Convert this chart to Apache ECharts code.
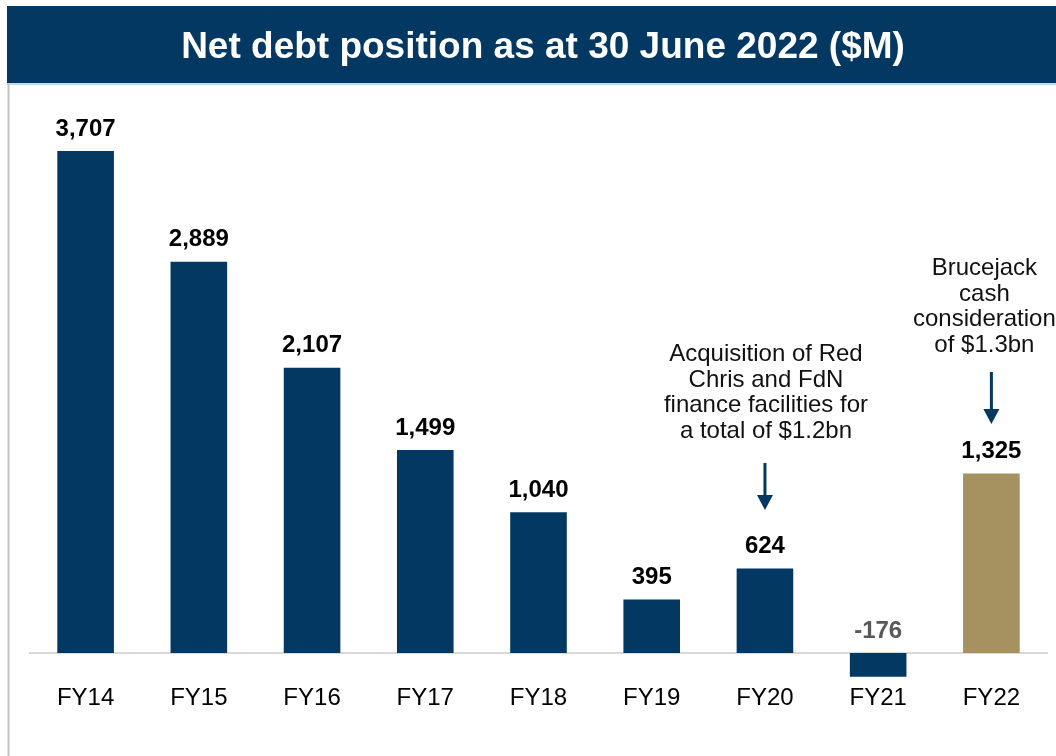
<!DOCTYPE html>
<html>
<head>
<meta charset="utf-8">
<script src="https://cdn.jsdelivr.net/npm/echarts@6/dist/echarts.min.js"></script>
<style>
html,body{margin:0;padding:0;background:#fff;}
#chart{width:1056px;height:756px;}
</style>
</head>
<body>
<div id="chart"></div>
<script>
const titleText = 'Net debt position as at 30 June 2022 ($M)';
const categories = ['FY14','FY15','FY16','FY17','FY18','FY19','FY20','FY21','FY22'];
const netDebt = [3707, 2889, 2107, 1499, 1040, 395, 624, -176, 1325];
const annotations = [
  {category: 'FY20', text: 'Acquisition of Red\nChris and FdN\nfinance facilities for\na total of $1.2bn'},
  {category: 'FY22', text: 'Brucejack\ncash\nconsideration\nof $1.3bn'}
];

const NAVY = '#023862';
const GOLD = '#A69161';
const FONT = "'Liberation Sans', Arial, sans-serif";

const chart = echarts.init(document.getElementById('chart'), null, {renderer: 'canvas'});

const seriesData = netDebt.map((v, i) => {
  const item = {value: v};
  if (categories[i] === 'FY22') item.itemStyle = {color: GOLD};
  if (v < 0) item.label = {color: '#595959'};
  return item;
});

const option = {
  backgroundColor: '#ffffff',
  animation: false,
  title: {
    text: titleText,
    left: 538,
    textAlign: 'center',
    top: 24,
    textStyle: {color: '#ffffff', fontFamily: FONT, fontWeight: 'bold', fontSize: 37}
  },
  grid: {left: 29, right: 8, top: 111.32, bottom: 75.92, containLabel: false, outerBoundsMode: 'none'},
  xAxis: {
    type: 'category',
    data: categories,
    axisLine: {show: false, onZero: false},
    axisTick: {show: false},
    axisLabel: {color: '#000', fontFamily: FONT, fontSize: 24, margin: 6}
  },
  yAxis: {
    type: 'value', min: -200, max: 4000, show: false,
    splitLine: {show: false}
  },
  series: [{
    type: 'bar',
    data: seriesData,
    barWidth: '50%',
    itemStyle: {color: NAVY},
    label: {
      show: true, position: 'top', distance: 10,
      color: '#000', fontFamily: FONT, fontWeight: 'bold', fontSize: 24,
      formatter: p => Number(p.value).toLocaleString('en-US')
    },
    markLine: {
      silent: true, symbol: 'none', z: 1,
      label: {show: false},
      lineStyle: {color: '#d9d9d9', width: 2, type: 'solid'},
      data: [{yAxis: 0}]
    }
  }],
  graphic: []
};
chart.setOption(option);

function buildGraphics() {
  const g = [
    {type: 'rect', z: -1, shape: {x: 7, y: 6, width: 1049, height: 77}, style: {fill: NAVY}},
    {type: 'line', shape: {x1: 7, y1: 84, x2: 1056, y2: 84}, style: {stroke: '#b9c8d8', lineWidth: 1.5}},
    {type: 'line', shape: {x1: 8.5, y1: 84, x2: 8.5, y2: 756}, style: {stroke: '#c3c3c3', lineWidth: 2}}
  ];
  const cfg = {
    FY20: {dx: 1, textCenter: 393, arrowTop: 463, arrowTip: 510},
    FY22: {dx: -7, textCenter: 307, arrowTop: 372, arrowTip: 424}
  };
  annotations.forEach(a => {
    const idx = categories.indexOf(a.category);
    const px = chart.convertToPixel({xAxisIndex: 0, yAxisIndex: 0}, [idx, netDebt[idx]]);
    const x = px[0];
    const c = cfg[a.category];
    g.push({
      type: 'text',
      style: {
        text: a.text, x: x + c.dx, y: c.textCenter, align: 'center', verticalAlign: 'middle',
        fill: '#111', font: "24px 'Liberation Sans', Arial, sans-serif", lineHeight: 25.5
      }
    });
    g.push({type: 'line', shape: {x1: x, y1: c.arrowTop, x2: x, y2: c.arrowTip - 14}, style: {stroke: NAVY, lineWidth: 3}});
    g.push({type: 'polygon', shape: {points: [[x - 8, c.arrowTip - 15], [x + 8, c.arrowTip - 15], [x, c.arrowTip]]}, style: {fill: NAVY}});
  });
  return g;
}
chart.setOption({graphic: buildGraphics()});
</script>
</body>
</html>
